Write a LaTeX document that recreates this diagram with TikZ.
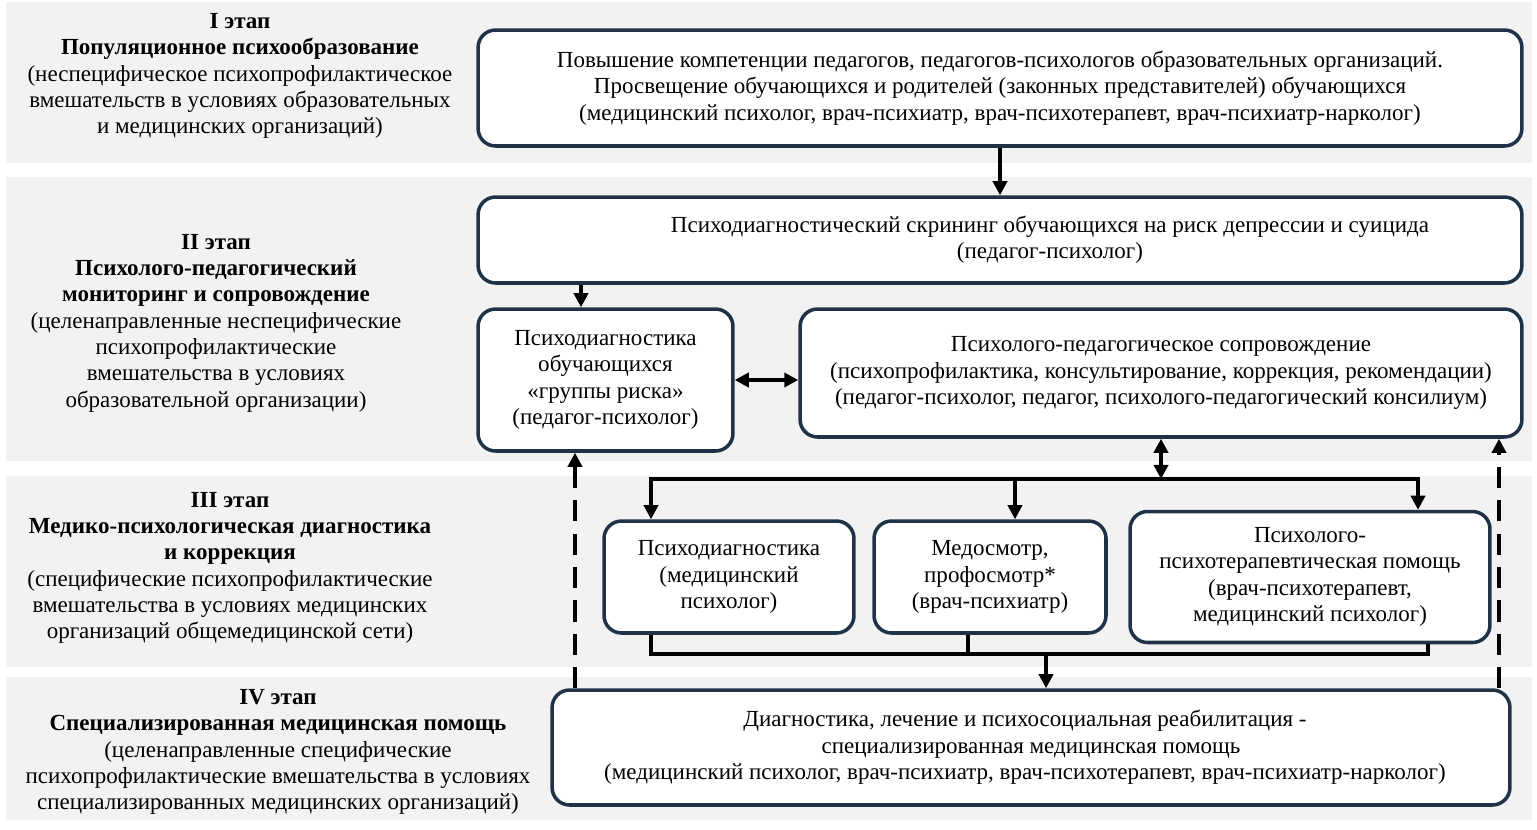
\documentclass[tikz,border=0pt]{standalone}
\usepackage{fontspec}
\setmainfont{Liberation Serif}
\usetikzlibrary{arrows.meta}
\definecolor{boxline}{RGB}{31,50,72}
\definecolor{bandgray}{RGB}{242,242,242}
\tikzstyle{band}=[fill=bandgray]
\tikzstyle{stage}=[align=center,font=\fontsize{13.1pt}{15pt}\selectfont]
\tikzstyle{block}=[draw=boxline,line width=2pt,rounded corners=0.35cm,fill=white,align=center,font=\fontsize{13.1pt}{15pt}\selectfont]
\tikzstyle{link}=[line width=2.2pt]
\tikzstyle{back}=[line width=2.2pt,dash pattern=on 12pt off 7pt]

\begin{document}
\begin{tikzpicture}[x=0.02cm,y=-0.02cm,>={Triangle[length=8pt,width=8pt]}]
\useasboundingbox (0,0) rectangle (1537,829);
\fill[band] (6,2) rectangle (1532,163);
\fill[band] (6,177) rectangle (1532,461);
\fill[band] (6,476) rectangle (1532,667);
\fill[band] (6,677) rectangle (1532,820);
\node[stage] at (240,76) (l1) {\textbf{I этап}\\ \textbf{Популяционное психообразование}\\ (неспецифическое психопрофилактическое\\ вмешательств в условиях образовательных\\ и медицинских организаций)};
\node[stage] at (216,323) (l2) {\textbf{II этап}\\ \textbf{Психолого-педагогический}\\ \textbf{мониторинг и сопровождение}\\ (целенаправленные неспецифические\\ психопрофилактические\\ вмешательства в условиях\\ образовательной организации)};
\node[stage] at (230,568) (l3) {\textbf{III этап}\\ \textbf{Медико-психологическая диагностика}\\ \textbf{и коррекция}\\ (специфические психопрофилактические\\ вмешательства в условиях медицинских\\ организаций общемедицинской сети)};
\node[stage] at (278,752) (l4) {\textbf{IV этап}\\ \textbf{Специализированная медицинская помощь}\\ (целенаправленные специфические\\ психопрофилактические вмешательства в условиях\\ специализированных медицинских организаций)};
\node[block,minimum width=20.88cm,minimum height=2.32cm] at (1000,88) (edu) {Повышение компетенции педагогов, педагогов-психологов образовательных организаций.\\ Просвещение обучающихся и родителей (законных представителей) обучающихся\\ (медицинский психолог, врач-психиатр, врач-психотерапевт, врач-психиатр-нарколог)};
\node[block,minimum width=20.88cm,minimum height=1.72cm] at (1000,240) (scr) {\hspace*{2cm}Психодиагностический скрининг обучающихся на риск депрессии и суицида\\ \hspace*{2cm}(педагог-психолог)};
\node[block,minimum width=5.1cm,minimum height=2.84cm] at (605.5,380) (risk) {Психодиагностика\\ обучающихся\\ «группы риска»\\ (педагог-психолог)};
\node[block,minimum width=14.44cm,minimum height=2.56cm] at (1161,373) (supp) {Психолого-педагогическое сопровождение\\ (психопрофилактика, консультирование, коррекция, рекомендации)\\ (педагог-психолог, педагог, психолого-педагогический консилиум)};
\node[block,minimum width=5cm,minimum height=2.24cm] at (729,577) (diag) {Психодиагностика\\ (медицинский\\ психолог)};
\node[block,minimum width=4.64cm,minimum height=2.24cm] at (990,577) (med) {Медосмотр,\\ профосмотр*\\ (врач-психиатр)};
\node[block,minimum width=7.2cm,minimum height=2.62cm] at (1310,577) (ther) {Психолого-\\ психотерапевтическая помощь\\ (врач-психотерапевт,\\ медицинский психолог)};
\node[block,minimum width=19.16cm,minimum height=2.3cm] at (1031,747.5) (spec) {Диагностика, лечение и психосоциальная реабилитация -\hspace*{0.24cm}\\ специализированная медицинская помощь\hspace*{0.24cm}\\ (медицинский психолог, врач-психиатр, врач-психотерапевт, врач-психиатр-нарколог)\hspace*{0.24cm}};
% bus lines and arrow columns
\coordinate (busT) at (0,479);
\coordinate (busB) at (0,654);
\coordinate (xa) at (581,0);
\coordinate (x1) at (651,0);
\coordinate (x2) at (1015,0);
\coordinate (x3) at (1418,0);
\coordinate (y2) at (968,0);
\coordinate (y3) at (1428,0);
\coordinate (xm) at (1046,0);
\coordinate (xd1) at (575,0);
\coordinate (xd2) at (1499,0);
\draw[link,->] (edu) -- (scr);
\draw[link,->] (scr.south -| xa) -- (risk.north -| xa);
\draw[link,<->] (risk.east) -- (risk.east -| supp.west);
\draw[link,<->] (supp.south) -- (supp.south |- busT);
\draw[link,<->] (diag.north -| x1) -- (x1 |- busT) -- (x3 |- busT) -- (ther.north -| x3);
\draw[link,->] (x2 |- busT) -- (med.north -| x2);
\draw[link] (diag.south -| x1) -- (x1 |- busB) -- (y3 |- busB) -- (ther.south -| y3);
\draw[link] (med.south -| y2) -- (y2 |- busB);
\draw[link,->] (xm |- busB) -- (spec.north -| xm);
\draw[back,->] (spec.north -| xd1) -- (risk.south -| xd1);
\draw[back,->] (spec.north -| xd2) -- (supp.south -| xd2);
\end{tikzpicture}
\end{document}
